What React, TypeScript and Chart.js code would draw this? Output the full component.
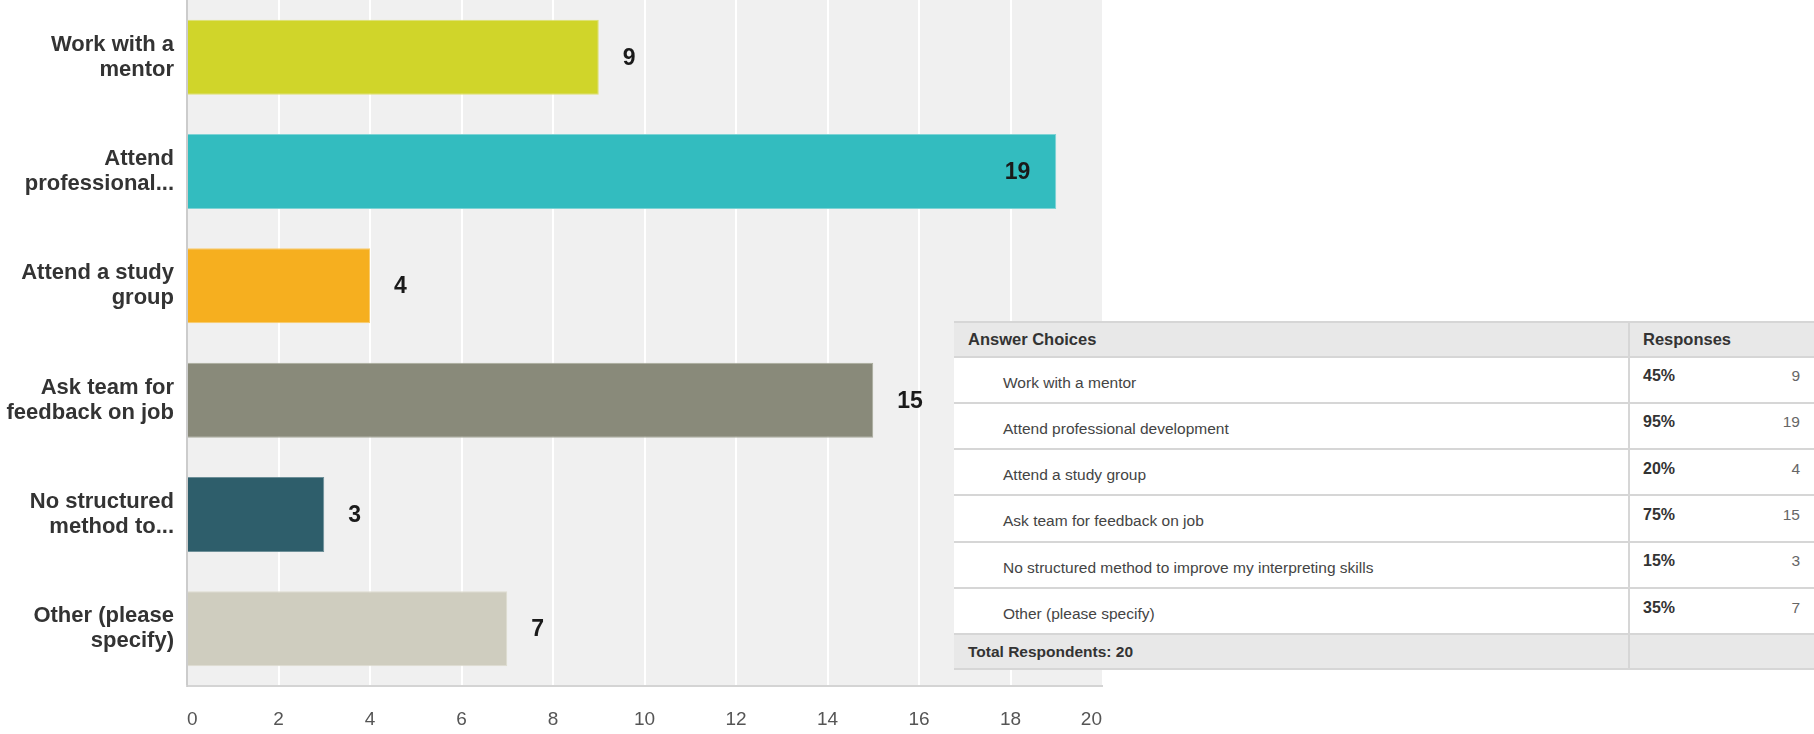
import { useEffect, useRef } from "react";
import { Chart, registerables } from "chart.js";

Chart.register(...registerables);

// ---- data ----
const categoryLabels: string[][] = [
  ["Work with a", "mentor"],
  ["Attend", "professional..."],
  ["Attend a study", "group"],
  ["Ask team for", "feedback on job"],
  ["No structured", "method to..."],
  ["Other (please", "specify)"],
];
const responseCounts: number[] = [9, 19, 4, 15, 3, 7];
const barColors: string[] = ["#d0d52a", "#33bcbf", "#f6af1f", "#898a7a", "#2e5e6b", "#cfcdbf"];
const barEdgeColors: string[] = ["#dde070", "#7fd3d5", "#f9cb6b", "#a9aa9c", "#6d8f98", "#dedccf"];

const answerChoices: string[] = [
  "Work with a mentor",
  "Attend professional development",
  "Attend a study group",
  "Ask team for feedback on job",
  "No structured method to improve my interpreting skills",
  "Other (please specify)",
];
const responsePercents: string[] = ["45%", "95%", "20%", "75%", "15%", "35%"];
const totalRespondents = 20;

const axisMin = 0;
const axisMax = 20;
const axisStep = 2;

const FONT = '"Liberation Sans", Arial, Helvetica, sans-serif';

// table geometry
const TABLE_LEFT = 954;
const TABLE_TOP = 321;
const HEADER_H = 35.5;
const ROW_H = 46.33;
const FOOTER_H = 36;
const DIVIDER_X = 1628;

export default function App() {
  const canvasRef = useRef<HTMLCanvasElement>(null);

  useEffect(() => {
    document.body.style.margin = "0";
    const canvas = canvasRef.current;
    if (!canvas) return;

    const bgPlugin = {
      id: "plotBg",
      beforeDraw(chart: any) {
        const { ctx, chartArea: a } = chart;
        ctx.save();
        ctx.fillStyle = "#f0f0f0";
        ctx.fillRect(a.left, a.top, a.right - a.left, a.bottom - a.top);
        ctx.restore();
      },
    };

    const valuePlugin = {
      id: "valueLabels",
      afterDatasetsDraw(chart: any) {
        const meta = chart.getDatasetMeta(0);
        const ctx = chart.ctx;
        ctx.save();
        ctx.font = `bold 23px ${FONT}`;
        ctx.fillStyle = "#1a1a1a";
        ctx.textBaseline = "middle";
        meta.data.forEach((bar: any, i: number) => {
          const txt = String(responseCounts[i]);
          const w = ctx.measureText(txt).width;
          const x = bar.x;
          if (x + 24 + w > chart.chartArea.right - 20) {
            ctx.textAlign = "right";
            ctx.fillText(txt, x - 26, bar.y + 1);
          } else {
            ctx.textAlign = "left";
            ctx.fillText(txt, x + 24, bar.y + 1);
          }
        });
        ctx.restore();
      },
    };

    const chart = new Chart(canvas, {
      type: "bar",
      data: {
        labels: categoryLabels,
        datasets: [
          {
            data: responseCounts,
            backgroundColor: barColors,
            borderColor: barEdgeColors,
            borderWidth: 1,
            barPercentage: 0.656,
            categoryPercentage: 1,
          },
        ],
      },
      options: {
        indexAxis: "y",
        responsive: false,
        animation: false,
        layout: { padding: { left: 0, top: 0, right: 712, bottom: 0 } },
        plugins: {
          legend: { display: false },
          tooltip: { enabled: false },
        },
        scales: {
          x: {
            min: axisMin,
            max: axisMax,
            ticks: {
              stepSize: axisStep,
              align: "inner",
              color: "#555",
              padding: 22,
              font: { family: FONT, size: 19 },
            },
            grid: {
              drawTicks: false,
              lineWidth: 2,
              color: (c: any) =>
                c.tick && c.tick.value === axisMin
                  ? "#cccccc"
                  : c.tick && c.tick.value === axisMax
                  ? "rgba(0,0,0,0)"
                  : "#ffffff",
            },
            border: { display: true, color: "#d4d4d4", width: 2 },
            afterFit: (s: any) => {
              s.height = 48;
              s.paddingLeft = 0;
              s.paddingRight = 0;
            },
          },
          y: {
            ticks: {
              color: "#333",
              padding: 13,
              font: { family: FONT, size: 22, weight: "bold", lineHeight: 1.13 },
            },
            grid: { display: false, drawTicks: false },
            border: { display: true, color: "#cccccc", width: 1 },
            afterFit: (s: any) => {
              s.width = 187;
              s.paddingTop = 0;
              s.paddingBottom = 0;
            },
          },
        },
      } as any,
      plugins: [bgPlugin, valuePlugin],
    });

    return () => chart.destroy();
  }, []);

  const rowTop = (i: number) => TABLE_TOP + HEADER_H + i * ROW_H;
  const footerTop = TABLE_TOP + HEADER_H + answerChoices.length * ROW_H;
  const tableBottom = footerTop + FOOTER_H;

  const lineStyle = (top: number): React.CSSProperties => ({
    position: "absolute",
    left: 0,
    right: 0,
    top: top - TABLE_TOP - 1,
    height: 2,
    background: "#d6d6d6",
  });

  return (
    <div
      style={{
        position: "absolute",
        left: 0,
        top: 0,
        width: 1814,
        height: 734,
        overflow: "hidden",
        background: "#ffffff",
      }}
    >
      <canvas ref={canvasRef} width={1814} height={734} style={{ display: "block" }} />
      <div
        style={{
          position: "absolute",
          left: TABLE_LEFT,
          top: TABLE_TOP,
          width: 1814 - TABLE_LEFT + 20,
          height: tableBottom - TABLE_TOP,
          background: "#ffffff",
          fontFamily: FONT,
        }}
      >
        {/* header */}
        <div
          style={{
            position: "absolute",
            left: 0,
            right: 0,
            top: 0,
            height: HEADER_H,
            background: "#e8e8e8",
          }}
        />
        {/* footer */}
        <div
          style={{
            position: "absolute",
            left: 0,
            right: 0,
            top: footerTop - TABLE_TOP,
            height: FOOTER_H,
            background: "#e8e8e8",
          }}
        />
        {/* horizontal lines */}
        <div style={lineStyle(TABLE_TOP + 1)} />
        {answerChoices.map((_, i) => (
          <div key={"l" + i} style={lineStyle(rowTop(i))} />
        ))}
        <div style={lineStyle(footerTop)} />
        <div style={lineStyle(tableBottom - 1)} />
        {/* column divider */}
        <div
          style={{
            position: "absolute",
            left: DIVIDER_X - TABLE_LEFT,
            top: 0,
            width: 2,
            height: tableBottom - TABLE_TOP,
            background: "#d6d6d6",
          }}
        />
        {/* header text */}
        <div
          style={{
            position: "absolute",
            left: 968 - TABLE_LEFT,
            top: 339 - TABLE_TOP - 10,
            lineHeight: "20px",
            fontSize: 16.5,
            fontWeight: "bold",
            color: "#333",
          }}
        >
          Answer Choices
        </div>
        <div
          style={{
            position: "absolute",
            left: 1643 - TABLE_LEFT,
            top: 339 - TABLE_TOP - 10,
            lineHeight: "20px",
            fontSize: 16.5,
            fontWeight: "bold",
            color: "#333",
          }}
        >
          Responses
        </div>
        {/* rows */}
        {answerChoices.map((choice, i) => {
          const t = rowTop(i) - TABLE_TOP;
          return (
            <div key={"r" + i}>
              <div
                style={{
                  position: "absolute",
                  left: 1003 - TABLE_LEFT,
                  top: t + 26 - 10,
                  lineHeight: "20px",
                  fontSize: 15.5,
                  color: "#444",
                  whiteSpace: "nowrap",
                }}
              >
                {choice}
              </div>
              <div
                style={{
                  position: "absolute",
                  left: 1643 - TABLE_LEFT,
                  top: t + 19.5 - 10,
                  lineHeight: "20px",
                  fontSize: 16,
                  fontWeight: "bold",
                  color: "#333",
                }}
              >
                {responsePercents[i]}
              </div>
              <div
                style={{
                  position: "absolute",
                  left: 1800 - TABLE_LEFT - 60,
                  width: 60,
                  textAlign: "right",
                  top: t + 19.5 - 10,
                  lineHeight: "20px",
                  fontSize: 15.5,
                  color: "#666",
                }}
              >
                {responseCounts[i]}
              </div>
            </div>
          );
        })}
        {/* footer text */}
        <div
          style={{
            position: "absolute",
            left: 968 - TABLE_LEFT,
            top: footerTop - TABLE_TOP + 18 - 10,
            lineHeight: "20px",
            fontSize: 15.5,
            fontWeight: "bold",
            color: "#333",
          }}
        >
          Total Respondents: {totalRespondents}
        </div>
      </div>
    </div>
  );
}
